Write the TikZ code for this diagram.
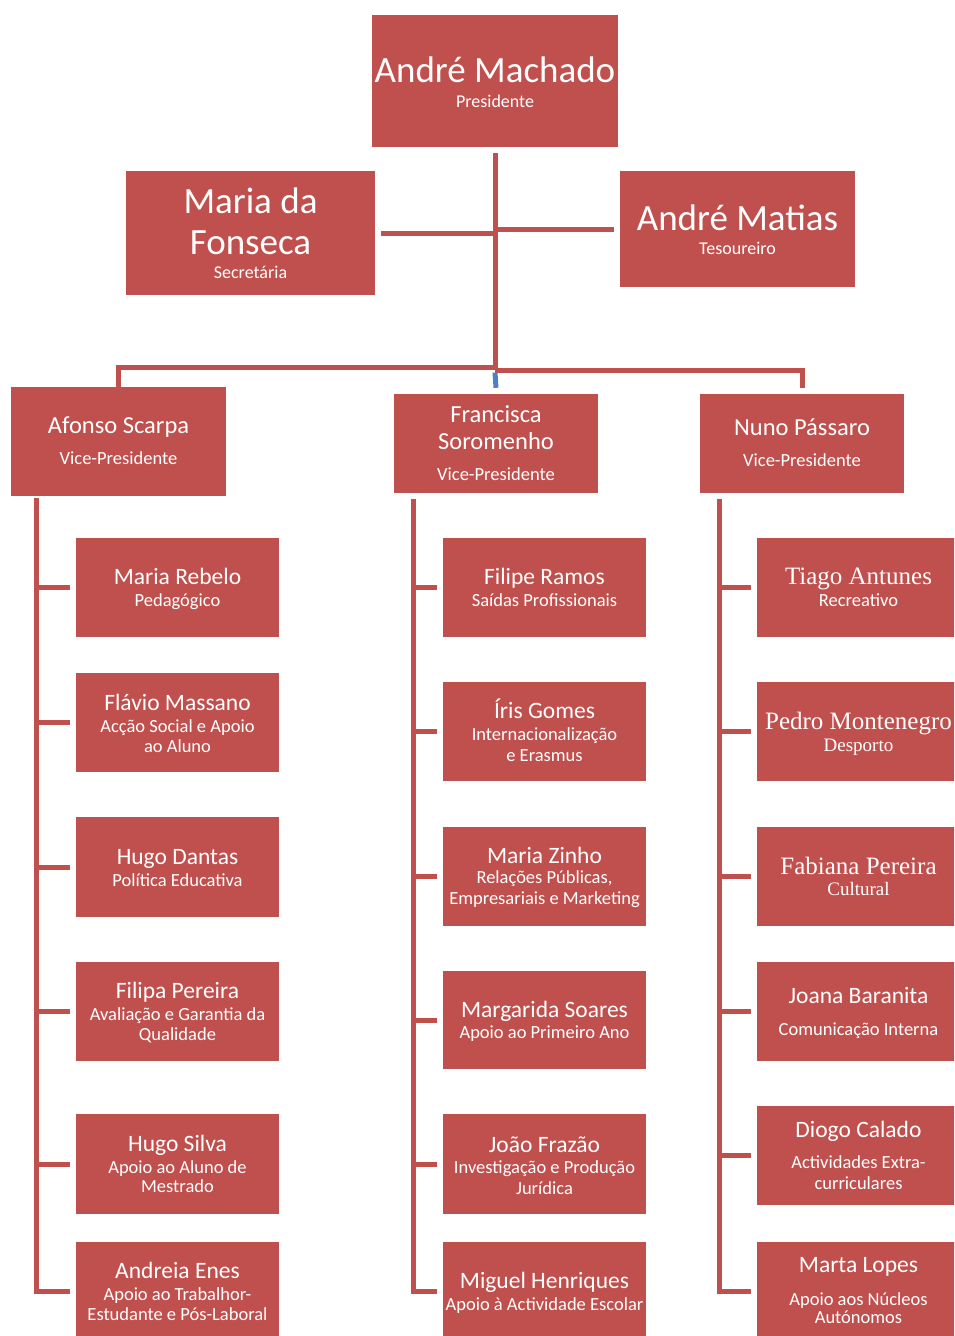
\documentclass[tikz,border=0pt]{standalone}
\usepackage{fontspec}
\setmainfont{Carlito}
\newfontfamily\serifcam{Liberation Serif}
\usetikzlibrary{fit}
\definecolor{boxred}{HTML}{C0504D}
\definecolor{linkblue}{HTML}{4F81BD}
\tikzset{
  box/.style={fill=boxred,draw=none,inner sep=0pt},
  conn/.style={draw=boxred,line width=5pt},
  bconn/.style={draw=linkblue,line width=5pt},
  txt/.style={text=white,inner sep=0pt,anchor=base},
  big/.style={txt,font=\fontsize{37}{44}\selectfont},
  bigsub/.style={txt,font=\fontsize{18}{22}\selectfont},
  mid/.style={txt,font=\fontsize{24.5}{29}\selectfont},
  nm/.style={txt,font=\fontsize{23.5}{28}\selectfont},
  sb/.style={txt,font=\fontsize{18.5}{22}\selectfont},
  snm/.style={txt,font=\serifcam\fontsize{25}{30}\selectfont},
  ssb/.style={txt,font=\serifcam\fontsize{19}{23}\selectfont},
}
\newcommand\mkbox[5]{\node[box,fit={(#2,#3) (#4,#5)}] (#1) {};}
\begin{document}
\begin{tikzpicture}[x=1pt,y=-1pt]
\clip (0,0) rectangle (954,1336);
\fill[white] (0,0) rectangle (954,1336);
% top boxes
\mkbox{pres}{372}{15}{618}{147}
\mkbox{maria}{126}{171}{375}{295}
\mkbox{matias}{620}{171}{855}{287}
\mkbox{afonso}{11}{387}{226}{496}
\mkbox{fran}{394}{394}{598}{493}
\mkbox{nuno}{700}{394}{904}{493}
% left column
\mkbox{L1}{76}{538}{279}{637}
\mkbox{L2}{76}{673}{279}{772}
\mkbox{L3}{76}{817}{279}{917}
\mkbox{L4}{76}{962}{279}{1061}
\mkbox{L5}{76}{1114}{279}{1214}
\mkbox{L6}{76}{1242}{279}{1341}
% middle column
\mkbox{M1}{443}{538}{646}{637}
\mkbox{M2}{443}{682}{646}{781}
\mkbox{M3}{443}{827}{646}{926}
\mkbox{M4}{443}{971}{646}{1069}
\mkbox{M5}{443}{1114}{646}{1214}
\mkbox{M6}{443}{1242}{646}{1341}
% right column
\mkbox{R1}{757}{538}{960}{637}
\mkbox{R2}{757}{682}{960}{781}
\mkbox{R3}{757}{827}{960}{926}
\mkbox{R4}{757}{962}{960}{1061}
\mkbox{R5}{757}{1106}{960}{1205}
\mkbox{R6}{757}{1242}{960}{1341}

% texts
\node[big] (t-pres) at (495,82) {André Machado};
\node[bigsub] (s-pres) at (495,107) {Presidente};
\node[big] (t-maria1) at (250.5,213) {Maria da};
\node[big] (t-maria2) at (250.5,254) {Fonseca};
\node[bigsub] (s-maria) at (250.5,278) {Secretária};
\node[big] (t-matias) at (737.5,230) {André Matias};
\node[bigsub] (s-matias) at (737.5,254) {Tesoureiro};
\node[mid] (t-afonso) at (118.5,433) {Afonso Scarpa};
\node[sb] (s-afonso) at (118.5,464) {Vice-Presidente};
\node[mid] (t-fran1) at (496,422) {Francisca};
\node[mid] (t-fran2) at (496,449) {Soromenho};
\node[sb] (s-fran) at (496,480) {Vice-Presidente};
\node[mid] (t-nuno) at (802,435) {Nuno Pássaro};
\node[sb] (s-nuno) at (802,466) {Vice-Presidente};

\node[nm] (t-L1) at (177.5,584) {Maria Rebelo};
\node[sb] (s-L1) at (177.5,606) {Pedagógico};
\node[nm] (t-L2) at (177.5,710) {Flávio Massano};
\node[sb] (s-L2a) at (177.5,732) {Acção Social e Apoio};
\node[sb] (s-L2b) at (177.5,752) {ao Aluno};
\node[nm] (t-L3) at (177.5,864) {Hugo Dantas};
\node[sb] (s-L3) at (177.5,886) {Política Educativa};
\node[nm] (t-L4) at (177.5,998) {Filipa Pereira};
\node[sb] (s-L4a) at (177.5,1020) {Avaliação e Garantia da};
\node[sb] (s-L4b) at (177.5,1040) {Qualidade};
\node[nm] (t-L5) at (177.5,1151) {Hugo Silva};
\node[sb] (s-L5a) at (177.5,1173) {Apoio ao Aluno de};
\node[sb] (s-L5b) at (177.5,1192) {Mestrado};
\node[nm] (t-L6) at (177.5,1278) {Andreia Enes};
\node[sb] (s-L6a) at (177.5,1300) {Apoio ao Trabalhor-};
\node[sb] (s-L6b) at (177.5,1320) {Estudante e Pós-Laboral};

\node[nm] (t-M1) at (544.5,584) {Filipe Ramos};
\node[sb] (s-M1) at (544.5,606) {Saídas Profissionais};
\node[nm] (t-M2) at (544.5,718) {Íris Gomes};
\node[sb] (s-M2a) at (544.5,740) {Internacionalização};
\node[sb] (s-M2b) at (544.5,761) {e Erasmus};
\node[nm] (t-M3) at (544.5,863) {Maria Zinho};
\node[sb] (s-M3a) at (544.5,883) {Relações Públicas,};
\node[sb] (s-M3b) at (544.5,904) {Empresariais e Marketing};
\node[nm] (t-M4) at (544.5,1017) {Margarida Soares};
\node[sb] (s-M4) at (544.5,1038) {Apoio ao Primeiro Ano};
\node[nm] (t-M5) at (544.5,1152) {João Frazão};
\node[sb] (s-M5a) at (544.5,1173) {Investigação e Produção};
\node[sb] (s-M5b) at (544.5,1194) {Jurídica};
\node[nm] (t-M6) at (544.5,1288) {Miguel Henriques};
\node[sb] (s-M6) at (544.5,1310) {Apoio à Actividade Escolar};

\node[snm] (t-R1) at (858.5,584) {Tiago Antunes};
\node[sb] (s-R1) at (858.5,606) {Recreativo};
\node[snm] (t-R2) at (858.5,729) {Pedro Montenegro};
\node[ssb] (s-R2) at (858.5,751) {Desporto};
\node[snm] (t-R3) at (858.5,874) {Fabiana Pereira};
\node[ssb] (s-R3) at (858.5,895) {Cultural};
\node[nm] (t-R4) at (858.5,1003) {Joana Baranita};
\node[sb] (s-R4) at (858.5,1035) {Comunicação Interna};
\node[nm] (t-R5) at (858.5,1137) {Diogo Calado};
\node[sb] (s-R5a) at (858.5,1168) {Actividades Extra-};
\node[sb] (s-R5b) at (858.5,1189) {curriculares};
\node[nm] (t-R6) at (858.5,1272) {Marta Lopes};
\node[sb] (s-R6a) at (858.5,1305) {Apoio aos Núcleos};
\node[sb] (s-R6b) at (858.5,1323) {Autónomos};

% connectors: top
\coordinate (hub) at (495,370);
\coordinate (busL) at (495,367);
\draw[conn] ([yshift=-6pt]pres.south) -- (hub);
\draw[conn] ([xshift=6pt]maria.east) -- (maria.east -| hub);
\draw[conn] ([xshift=-6pt]matias.west) -- (matias.west -| hub);
\draw[conn] (busL) -| (afonso.north);
\draw[conn] (hub) -| ([yshift=6pt]nuno.north);
\draw[bconn] ([yshift=-2.5pt]hub) -- ([yshift=6pt]fran.north);

% columns
\coordinate (lcol) at (36,498);
\coordinate (mcol) at (413,499);
\coordinate (rcol) at (719,499);
\draw[conn] (lcol) |- ([xshift=-6pt]L6.west);
\draw[conn] (mcol) |- ([xshift=-6pt]M6.west);
\draw[conn] (rcol) |- ([xshift=-6pt]R6.west);
\foreach \b in {L1,L2,L3,L4,L5}{\draw[conn] ([xshift=-6pt]\b.west) -- (\b.west -| lcol);}
\foreach \b in {M1,M2,M3,M4,M5}{\draw[conn] ([xshift=-6pt]\b.west) -- (\b.west -| mcol);}
\foreach \b in {R1,R2,R3,R4,R5}{\draw[conn] ([xshift=-6pt]\b.west) -- (\b.west -| rcol);}
\end{tikzpicture}
\end{document}
